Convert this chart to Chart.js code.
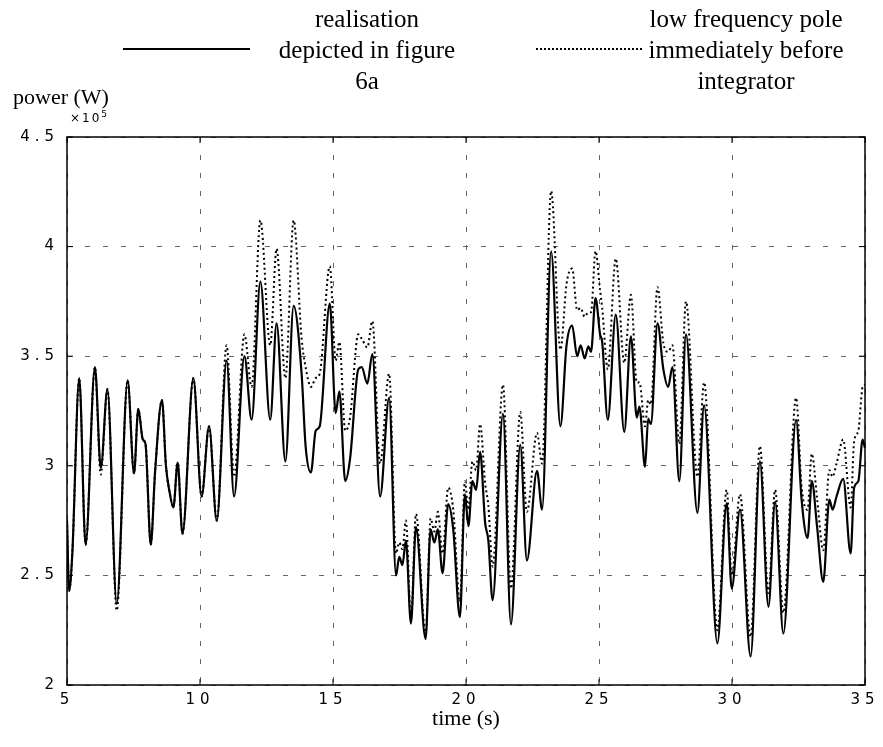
<!DOCTYPE html>
<html>
<head>
<meta charset="utf-8">
<script src="https://cdn.jsdelivr.net/npm/chart.js@4.4.1/dist/chart.umd.min.js"></script>
<style>
  body { margin: 0; background: #fff; }
  #wrap { position: relative; width: 883px; height: 747px; }
  canvas { position: absolute; left: 0; top: 0; }
  .lbl { position: absolute; font-family: "Liberation Serif", "Times New Roman", serif; font-size: 22px; color: #000; line-height: 31px; white-space: nowrap; }
  .leg { text-align: center; font-size: 25px; }
  .sample { position: absolute; height: 0; }
</style>
</head>
<body>
<div id="wrap">
  <canvas id="chart" width="883" height="747"></canvas>
  <div class="lbl leg" style="left:247px; top:3px; width:240px;">realisation<br>depicted in figure<br>6a</div>
  <div class="lbl leg" style="left:626px; top:3px; width:240px;">low frequency pole<br>immediately before<br>integrator</div>
  <div class="sample" style="left:123px; top:48px; width:127px; border-top:2px solid #000;"></div>
  <div class="sample" style="left:536px; top:48px; width:106px; border-top:2px dotted #000;"></div>
  <div class="lbl" style="left:13px; top:81px;">power (W)</div>
  <div class="lbl" style="left:70px; top:107px; font-family:'DejaVu Sans',sans-serif; font-size:12px; line-height:14px; letter-spacing:2px;">&times;10<sup style="font-size:9px;">5</sup></div>
  <div class="lbl" style="left:416px; top:702px; width:100px; text-align:center;">time (s)</div>
</div>
<script>
// temps (s)
const times = [
  5.00, 5.08, 5.20, 5.46, 5.70, 6.05, 6.27, 6.52, 6.87, 7.28,
  7.52, 7.68, 7.85, 7.95, 8.15, 8.31, 8.57, 8.72, 8.85, 9.00,
  9.16, 9.34, 9.75, 10.06, 10.34, 10.63, 11.00, 11.28, 11.67, 11.94,
  12.27, 12.64, 12.88, 13.21, 13.52, 13.82, 13.97, 14.17, 14.35, 14.50,
  14.88, 15.10, 15.24, 15.46, 15.64, 15.95, 16.08, 16.29, 16.48, 16.77,
  17.11, 17.37, 17.49, 17.61, 17.74, 17.93, 18.12, 18.48, 18.67, 18.81,
  18.94, 19.12, 19.33, 19.52, 19.77, 19.96, 20.09, 20.24, 20.38, 20.53,
  20.72, 20.84, 21.00, 21.39, 21.69, 22.04, 22.29, 22.67, 22.86, 23.20,
  23.55, 23.78, 23.99, 24.18, 24.31, 24.46, 24.60, 24.70, 24.87, 25.04,
  25.12, 25.33, 25.63, 25.95, 26.20, 26.42, 26.52, 26.73, 26.85, 26.95,
  27.20, 27.42, 27.60, 27.76, 28.02, 28.27, 28.70, 28.95, 29.45, 29.80,
  29.99, 30.30, 30.70, 31.05, 31.37, 31.62, 31.93, 32.41, 32.62, 32.84,
  33.00, 33.20, 33.43, 33.66, 33.78, 33.93, 34.18, 34.46, 34.59, 34.75,
  34.91, 35.00
];

// réalisation figure 6a (x10^5 W)
const realisation = [
  2.75, 2.43, 2.60, 3.40, 2.64, 3.45, 2.99, 3.35, 2.37, 3.39,
  2.965, 3.26, 3.12, 3.10, 2.64, 2.97, 3.30, 3.00, 2.885, 2.81,
  3.015, 2.69, 3.40, 2.86, 3.18, 2.75, 3.48, 2.86, 3.50, 3.21,
  3.84, 3.21, 3.65, 3.02, 3.73, 3.42, 3.09, 2.97, 3.16, 3.18,
  3.74, 3.24, 3.34, 2.93, 3.03, 3.44, 3.45, 3.375, 3.51, 2.86,
  3.31, 2.50, 2.585, 2.547, 2.66, 2.28, 2.72, 2.21, 2.71, 2.65,
  2.71, 2.51, 2.825, 2.71, 2.31, 2.87, 2.725, 2.93, 2.89, 3.064,
  2.74, 2.66, 2.387, 3.237, 2.276, 3.096, 2.568, 2.977, 2.80, 3.978,
  3.18, 3.55, 3.64, 3.50, 3.55, 3.49, 3.545, 3.52, 3.765, 3.60,
  3.565, 3.21, 3.69, 3.155, 3.59, 3.22, 3.27, 2.995, 3.215, 3.19,
  3.65, 3.44, 3.36, 3.45, 2.93, 3.60, 2.785, 3.276, 2.19, 2.83,
  2.44, 2.80, 2.13, 3.02, 2.357, 2.835, 2.235, 3.21, 2.84, 2.67,
  2.93, 2.72, 2.47, 2.846, 2.80, 2.86, 2.94, 2.60, 2.90, 2.93,
  3.12, 3.08
];

// pôle basse fréquence avant intégrateur (x10^5 W)
const lowPole = [
  2.75, 2.43, 2.60, 3.40, 2.64, 3.45, 2.96, 3.35, 2.34, 3.39,
  2.965, 3.26, 3.12, 3.10, 2.64, 2.97, 3.30, 3.00, 2.885, 2.81,
  3.015, 2.69, 3.40, 2.86, 3.18, 2.75, 3.55, 2.95, 3.60, 3.36,
  4.12, 3.55, 3.99, 3.40, 4.12, 3.58, 3.45, 3.36, 3.40, 3.42,
  3.91, 3.48, 3.565, 3.16, 3.22, 3.60, 3.58, 3.54, 3.66, 3.01,
  3.42, 2.60, 2.65, 2.62, 2.75, 2.30, 2.78, 2.23, 2.76, 2.70,
  2.79, 2.60, 2.90, 2.80, 2.38, 2.93, 2.80, 3.02, 2.98, 3.19,
  2.92, 2.82, 2.54, 3.37, 2.44, 3.245, 2.79, 3.15, 3.01, 4.254,
  3.53, 3.83, 3.90, 3.71, 3.72, 3.68, 3.70, 3.70, 3.98, 3.80,
  3.72, 3.44, 3.945, 3.47, 3.78, 3.38, 3.38, 3.18, 3.30, 3.28,
  3.815, 3.56, 3.52, 3.55, 3.10, 3.75, 2.95, 3.38, 2.25, 2.89,
  2.50, 2.87, 2.22, 3.09, 2.42, 2.89, 2.33, 3.31, 2.90, 2.80,
  3.055, 2.85, 2.615, 2.98, 2.95, 3.01, 3.12, 2.81, 3.11, 3.16,
  3.36, 3.37
];

const xTicks = [5, 10, 15, 20, 25, 30, 35];
const yTicks = [2, 2.5, 3, 3.5, 4, 4.5];

const tickFont = { family: "DejaVu Sans", size: 15 };

// cadre + petites graduations vers l'intérieur
const boxPlugin = {
  id: "box",
  beforeDraw(chart) {
    chart.ctx.letterSpacing = "5px";
  },
  afterDraw(chart) {
    const { ctx, chartArea: a, scales } = chart;
    ctx.save();
    ctx.letterSpacing = "0px";
    ctx.strokeStyle = "#000";
    ctx.lineWidth = 1.5;
    ctx.strokeRect(a.left, a.top, a.right - a.left, a.bottom - a.top);
    ctx.lineWidth = 1;
    ctx.beginPath();
    xTicks.forEach(v => {
      const px = scales.x.getPixelForValue(v);
      ctx.moveTo(px, a.bottom); ctx.lineTo(px, a.bottom - 6);
      ctx.moveTo(px, a.top); ctx.lineTo(px, a.top + 6);
    });
    yTicks.forEach(v => {
      const py = scales.y.getPixelForValue(v);
      ctx.moveTo(a.left, py); ctx.lineTo(a.left + 6, py);
      ctx.moveTo(a.right, py); ctx.lineTo(a.right - 6, py);
    });
    ctx.stroke();
    ctx.restore();
  }
};

new Chart(document.getElementById("chart"), {
  type: "line",
  data: {
    datasets: [
      {
        label: "realisation depicted in figure 6a",
        data: times.map((t, i) => ({ x: t, y: realisation[i] })),
        borderColor: "#000",
        borderWidth: 2.2,
        pointRadius: 0,
        cubicInterpolationMode: "monotone"
      },
      {
        label: "low frequency pole immediately before integrator",
        data: times.map((t, i) => ({ x: t, y: lowPole[i] })),
        borderColor: "#000",
        borderWidth: 2,
        borderDash: [2, 3],
        pointRadius: 0,
        cubicInterpolationMode: "monotone"
      }
    ]
  },
  options: {
    responsive: false,
    animation: false,
    devicePixelRatio: 1,
    layout: { padding: { top: 137, right: 18, left: 0, bottom: 0 } },
    plugins: { legend: { display: false }, tooltip: { enabled: false } },
    scales: {
      x: {
        type: "linear",
        min: 5,
        max: 35,
        afterBuildTicks: s => { s.ticks = xTicks.map(v => ({ value: v })); },
        afterFit: s => { s.height = 62; },
        ticks: { color: "#000", font: tickFont, padding: 6, maxRotation: 0, callback: v => String(v) },
        grid: { color: "#666", lineWidth: 1, drawTicks: false },
        border: { display: false, dash: [5, 13] }
      },
      y: {
        min: 2,
        max: 4.5,
        afterBuildTicks: s => { s.ticks = yTicks.map(v => ({ value: v })); },
        afterFit: s => { s.width = 67; },
        ticks: { color: "#000", font: tickFont, padding: 8, callback: v => String(v) },
        grid: { color: "#666", lineWidth: 1, drawTicks: false },
        border: { display: false, dash: [5, 13] }
      }
    }
  },
  plugins: [boxPlugin]
});
</script>
</body>
</html>
